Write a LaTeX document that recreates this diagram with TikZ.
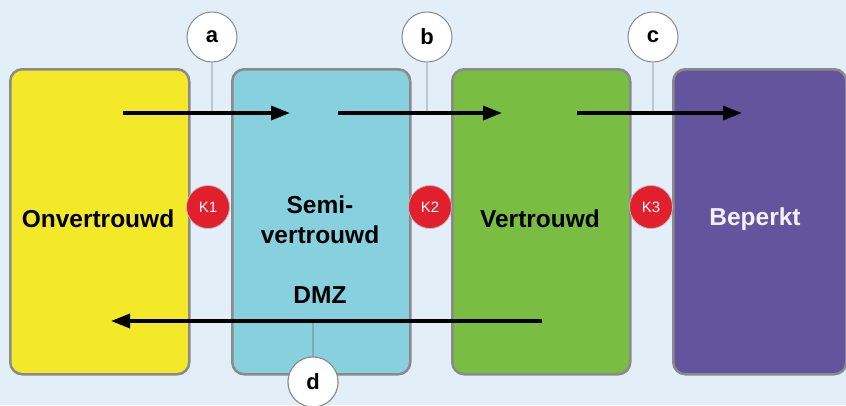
\documentclass[tikz,border=0pt]{standalone}
\usepackage{fontspec}
\setmainfont{Liberation Sans}
\usetikzlibrary{arrows.meta}
\definecolor{bg}{HTML}{E2EFF9}
\definecolor{zyellow}{HTML}{F3E928}
\definecolor{zcyan}{HTML}{87D1DF}
\definecolor{zgreen}{HTML}{7ABD43}
\definecolor{zpurple}{HTML}{62559E}
\definecolor{zborder}{HTML}{8A8A8A}
\definecolor{kred}{HTML}{E21F2C}
\definecolor{pin}{HTML}{BCC8D0}
\tikzset{
  zone/.style={draw=zborder, line width=2.5pt, rounded corners=12pt, anchor=north west, inner sep=0pt},
  zlabel/.style={font=\fontsize{24.5}{30}\selectfont\bfseries, align=center},
  letter/.style={circle, draw=zborder, line width=1pt, fill=white, minimum size=50pt, inner sep=0pt, font=\fontsize{22}{22}\selectfont\bfseries},
  kbadge/.style={circle, draw=zborder!60, line width=0.8pt, fill=kred, text=white, minimum size=43pt, inner sep=0pt, font=\fontsize{15}{15}\selectfont},
  flow/.style={line width=3.4pt, -{Triangle[length=19pt,width=14pt]}},
  pinline/.style={draw=pin, line width=1.2pt}
}
\begin{document}
\begin{tikzpicture}[x=1pt,y=-1pt]
\fill[bg] (0,0) rectangle (846,405);
\useasboundingbox (0,0) rectangle (846,405);
% zones
\node[zone, fill=zyellow, minimum width=179pt, minimum height=305pt] (z1) at (9,68) {};
\node[zone, fill=zcyan, minimum width=178pt, minimum height=305pt] (z2) at (231,68) {};
\node[zone, fill=zgreen, minimum width=178pt, minimum height=305pt] (z3) at (451,68) {};
\node[zone, fill=zpurple, minimum width=173pt, minimum height=305pt] (z4) at (672,68) {};
% labels
\node[zlabel] (t1) at (98,219) {Onvertrouwd};
\node[zlabel] (t2) at (320,220) {Semi-\\vertrouwd};
\node[zlabel] (t3) at (540,219) {Vertrouwd};
\node[zlabel, text=white!92!zpurple] (t4) at (755,219) {Beperkt};
\node[zlabel] (t5) at (320,295) {DMZ};
% letter circles
\node[letter] (ca) at (212,37) {a};
\node[letter] (cb) at (427,37) {b};
\node[letter] (cc) at (653,37) {c};
\node[letter] (cd) at (313,382) {d};
% arrow end points
\coordinate (s1) at (123,113);
\coordinate (e1) at (290,113);
\coordinate (s2) at (338,113);
\coordinate (e2) at (502,113);
\coordinate (s3) at (577,113);
\coordinate (e3) at (742,113);
\coordinate (s4) at (542,321);
\coordinate (e4) at (111,321);
% pin lines
\draw[pinline] (ca.south) -- (ca |- s1);
\draw[pinline] (cb.south) -- (cb |- s2);
\draw[pinline] (cc.south) -- (cc |- s3);
\draw[pinline, draw=zcyan!70!black!80] (cd.north) -- (cd |- s4);
% flows
\draw[flow] (s1) -- (e1);
\draw[flow] (s2) -- (e2);
\draw[flow] (s3) -- (e3);
\draw[flow] (s4) -- (e4);
% redraw circle d on top
\node[letter] at (cd) {d};
% K badges
\node[kbadge] (k1) at (208,207) {K1};
\node[kbadge] (k2) at (430,207) {K2};
\node[kbadge] (k3) at (651,207) {K3};
\end{tikzpicture}
\end{document}
